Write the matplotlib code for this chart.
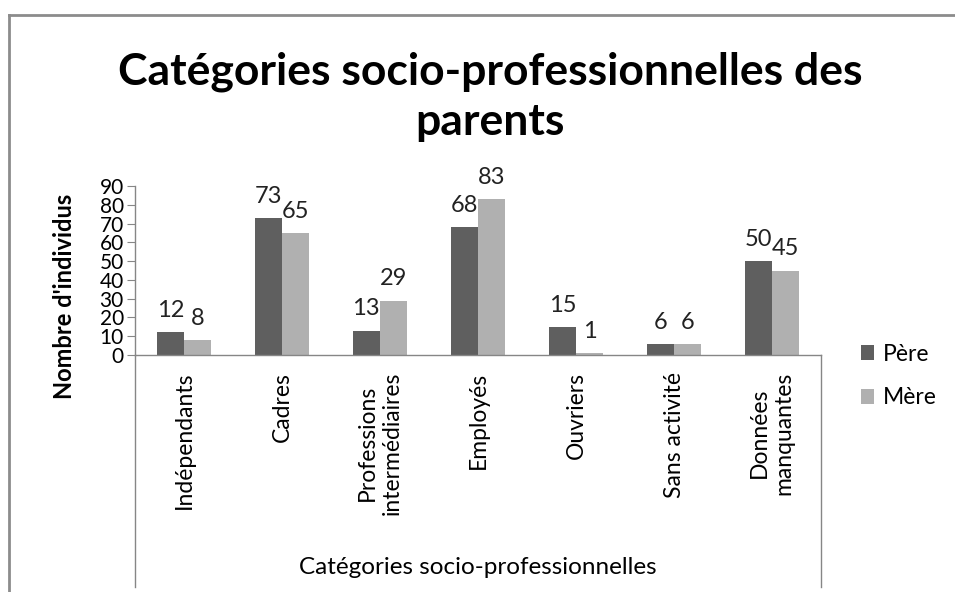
import matplotlib.pyplot as plt
import numpy as np
from matplotlib.lines import Line2D

plt.rcParams['font.family'] = ['Lato', 'DejaVu Sans']

categories = ["Indépendants", "Cadres", "Professions\nintermédiaires", "Employés",
              "Ouvriers", "Sans activité", "Données\nmanquantes"]
pere = [12, 73, 13, 68, 15, 6, 50]
mere = [8, 65, 29, 83, 1, 6, 45]
yticks = [0, 10, 20, 30, 40, 50, 60, 70, 80, 90]

W, H = 955, 592
fig = plt.figure(figsize=(W / 100, H / 100), dpi=100)

# plot area in pixels: x 135..821, y 186..355
ax = fig.add_axes([135 / W, 1 - 355 / H, (821 - 135) / W, (355 - 186) / H])

x = np.arange(len(categories))
bw = 0.28
dark = '#5f5f5f'
light = '#b0b0b0'
b1 = ax.bar(x - bw / 2, pere, bw, color=dark, label='Père')
b2 = ax.bar(x + bw / 2, mere, bw, color=light, label='Mère')

for bars in (b1, b2):
    for rect in bars:
        h = rect.get_height()
        ax.annotate(str(int(h)), (rect.get_x() + rect.get_width() / 2, h),
                    xytext=(0, 8), textcoords='offset points',
                    ha='center', va='bottom', fontsize=17, color='#222222')

ax.set_xlim(-0.5, len(categories) - 0.5)
ax.set_ylim(0, 90)
ax.set_yticks(yticks)
ax.tick_params(axis='y', labelsize=15, length=6, color='#868686', pad=2)
ax.set_xticks(x)
ax.set_xticklabels(categories, rotation=90, fontsize=16.5, va='top', ha='center',
                   multialignment='center')
ax.tick_params(axis='x', length=0, pad=12)

for s in ('top', 'right'):
    ax.spines[s].set_visible(False)
for s in ('left', 'bottom'):
    ax.spines[s].set_color('#868686')
    ax.spines[s].set_linewidth(1)

fig.text(65 / W, 1 - 296 / H, "Nombre d'individus", rotation=90, ha='center', va='center',
         fontsize=17, fontweight='bold')

# category axis frame lines (multi-level labels)
gray = '#868686'
fig.add_artist(Line2D([135 / W, 135 / W], [1 - 355 / H, 1 - 587 / H], color=gray, lw=1))
fig.add_artist(Line2D([821 / W, 821 / W], [1 - 355 / H, 1 - 587 / H], color=gray, lw=1))
fig.text(478 / W, 1 - 568 / H, "Catégories socio-professionnelles", ha='center', va='center',
         fontsize=17.5)

fig.text(490 / W, 1 - 97 / H, "Catégories socio-professionnelles des\nparents", ha='center',
         va='center', fontsize=32, fontweight='bold', linespacing=1.3)

fig.legend(handles=[b1, b2], labels=['Père', 'Mère'], loc='center left',
           bbox_to_anchor=(840 / W, 1 - 376 / H), frameon=False, fontsize=16.5,
           handlelength=0.6, handleheight=0.6, handletextpad=0.35, labelspacing=1.0)

# outer chart border
bc = '#8c8c8c'
fig.add_artist(Line2D([9 / W, 1], [1 - 15 / H, 1 - 15 / H], color=bc, lw=2))
fig.add_artist(Line2D([9 / W, 9 / W], [0, 1 - 15 / H], color=bc, lw=2))

fig.savefig('out.png', dpi=100)
